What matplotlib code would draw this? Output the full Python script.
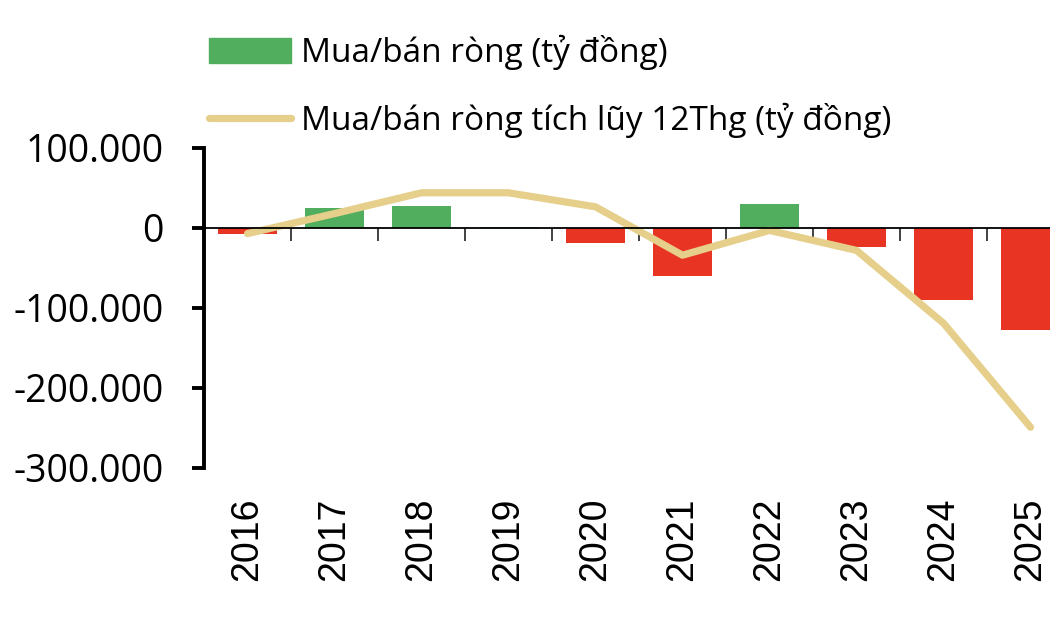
import matplotlib
matplotlib.use("Agg")
import matplotlib.pyplot as plt
import matplotlib.transforms as mtransforms
from matplotlib.ticker import FuncFormatter
from matplotlib.patches import Patch
from matplotlib.lines import Line2D

years = ["2016", "2017", "2018", "2019", "2020", "2021", "2022", "2023", "2024", "2025"]
net_flow = [-8000, 25000, 27000, 1500, -18500, -59500, 30000, -24000, -90500, -128000]
rolling_12m = [-7000, 18000, 44000, 44000, 26500, -34000, -3000, -28000, -119000, -249000]

GREEN = "#52ae5f"
RED = "#e83423"
GOLD = "#e6cf8b"

fig = plt.figure(figsize=(10.5, 6.3), dpi=100)
ax = fig.add_axes([204 / 1050, 1 - 468 / 630, 870 / 1050, 320 / 630])

x = list(range(len(years)))
colors = [GREEN if v >= 0 else RED for v in net_flow]
ax.bar(x, net_flow, width=0.68, color=colors, zorder=2)
ax.plot(x, rolling_12m, color=GOLD, lw=5.2, solid_capstyle="round", solid_joinstyle="round",
        zorder=3)

ax.set_xlim(-0.5, len(years) - 0.5)
ax.set_ylim(-300000, 100000)
ax.set_yticks([100000, 0, -100000, -200000, -300000])
ax.yaxis.set_major_formatter(FuncFormatter(lambda v, p: f"{int(v):,}".replace(",", ".")))
ax.tick_params(axis="y", direction="out", length=9, width=2.8, pad=20, labelsize=27)
for lab in ax.get_yticklabels():
    lab.set_family(["Open Sans", "DejaVu Sans"])

# zero line with category boundary ticks
for s in ["top", "right"]:
    ax.spines[s].set_visible(False)
ax.spines["left"].set_linewidth(2.8)
ax.spines["bottom"].set_position(("data", 0))
ax.spines["bottom"].set_linewidth(1.3)
ax.spines["bottom"].set_zorder(4)
ax.set_xticks([i + 0.5 for i in x[:-1]])
ax.set_xticklabels([])
ax.tick_params(axis="x", direction="out", length=9, width=1.3, color="#333333")

trans = mtransforms.blended_transform_factory(ax.transData, ax.transAxes)
for i, yr in zip(x, years):
    ax.text(i, -0.092, yr, rotation=90, ha="center", va="top", transform=trans,
            fontsize=27, family=["Liberation Sans", "DejaVu Sans"])

handles = [Patch(color=GREEN), Line2D([], [], color=GOLD, lw=5.2, solid_capstyle="round")]
labels = ["Mua/bán ròng (tỷ đồng)", "Mua/bán ròng tích lũy 12Thg (tỷ đồng)"]
leg = ax.legend(handles, labels, loc="upper left", bbox_to_anchor=(209 / 1050, 1 - 35 / 630),
                bbox_transform=fig.transFigure, frameon=False,
                handlelength=2.45, handleheight=0.75, handletextpad=0.3, labelspacing=0.98,
                borderaxespad=0, borderpad=0,
                prop={"family": ["Open Sans", "DejaVu Sans"], "size": 24})

fig.savefig("out.png", dpi=100)
